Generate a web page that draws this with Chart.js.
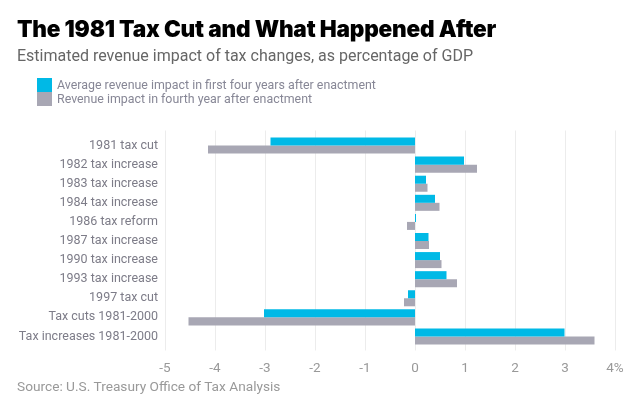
<!DOCTYPE html>
<html>
<head>
<meta charset="utf-8">
<script src="https://cdn.jsdelivr.net/npm/chart.js@4"></script>
<style>
  body { margin: 0; width: 640px; height: 414px; position: relative; background: #fff; font-family: Roboto, sans-serif; overflow: hidden; }
  #title { position: absolute; left: 17px; top: 15px; font-family: Inter, sans-serif; font-weight: 900; font-size: 22.6px; color: #000; letter-spacing: -0.2px; white-space: nowrap; }
  #subtitle { position: absolute; left: 17px; top: 46px; font-size: 16px; color: #666; white-space: nowrap; }
  #legend { position: absolute; left: 37px; top: 78px; font-size: 12.4px; color: #878796; }
  .item { height: 14px; line-height: 14px; display: flex; align-items: center; white-space: nowrap; }
  .sw { width: 15px; height: 14px; margin-right: 5px; }
  #source { position: absolute; left: 17px; top: 378px; font-size: 13.7px; color: #999; white-space: nowrap; }
  #wrap { position: absolute; left: 0; top: 0; width: 640px; height: 414px; }
</style>
</head>
<body>
<div id="wrap"><canvas id="barChart"></canvas></div>
<div id="title">The 1981 Tax Cut and What Happened After</div>
<div id="subtitle">Estimated revenue impact of tax changes, as percentage of GDP</div>
<div id="legend">
  <div class="item"><div class="sw" style="background:#00b9e6"></div>Average revenue impact in first four years after enactment</div>
  <div class="item"><div class="sw" style="background:#a8a7b4"></div>Revenue impact in fourth year after enactment</div>
</div>
<div id="source">Source: U.S. Treasury Office of Tax Analysis</div>
<script>
const categories = [
  "1981 tax cut",
  "1982 tax increase",
  "1983 tax increase",
  "1984 tax increase",
  "1986 tax reform",
  "1987 tax increase",
  "1990 tax increase",
  "1993 tax increase",
  "1997 tax cut",
  "Tax cuts 1981-2000",
  "Tax increases 1981-2000",
];
const averageImpact = [-2.89, 0.98, 0.22, 0.4, 0.02, 0.27, 0.5, 0.63, -0.14, -3.02, 2.99];
const fourthYearImpact = [-4.14, 1.24, 0.25, 0.49, -0.16, 0.28, 0.53, 0.84, -0.22, -4.53, 3.59];
const xTicks = [-5, -4, -3, -2, -1, 0, 1, 2, 3, 4];

// vertical grid lines run a little past the bars, like the original
const longGrid = {
  id: "longGrid",
  beforeDatasetsDraw(chart) {
    const { ctx, chartArea, scales } = chart;
    ctx.save();
    ctx.strokeStyle = "#ececec";
    ctx.lineWidth = 1;
    xTicks.forEach((t) => {
      const x = Math.round(scales.x.getPixelForValue(t)) + 0.5;
      ctx.beginPath();
      ctx.moveTo(x, chartArea.top - 5.5);
      ctx.lineTo(x, chartArea.bottom + 4.5);
      ctx.stroke();
    });
    ctx.restore();
  },
};

new Chart("barChart", {
  type: "bar",
  data: {
    labels: categories,
    datasets: [
      {
        label: "Average revenue impact in first four years after enactment",
        data: averageImpact,
        backgroundColor: "#00b9e6",
        categoryPercentage: 0.84,
        barPercentage: 1,
      },
      {
        label: "Revenue impact in fourth year after enactment",
        data: fourthYearImpact,
        backgroundColor: "#a8a7b4",
        categoryPercentage: 0.84,
        barPercentage: 1,
      },
    ],
  },
  options: {
    indexAxis: "y",
    responsive: true,
    maintainAspectRatio: false,
    animation: false,
    layout: { padding: { top: 136, right: 25, bottom: 28, left: 0 } },
    plugins: {
      legend: { display: false },
      tooltip: { enabled: false },
    },
    scales: {
      x: {
        min: -5,
        max: 4,
        afterBuildTicks(scale) {
          scale.ticks = xTicks.map((v) => ({ value: v }));
        },
        afterFit(scale) {
          scale.height = 40;
        },
        grid: { display: false, drawTicks: false },
        border: { display: false },
        ticks: {
          padding: 15,
          color: "#999",
          font: { family: "Roboto", size: 13.5 },
          callback: (v) => (v === 4 ? "4%" : String(v)),
        },
      },
      y: {
        afterFit(scale) {
          scale.width = 165;
        },
        grid: { display: false, drawTicks: false },
        border: { display: false },
        ticks: {
          padding: 7,
          color: "#7d7c88",
          font: { family: "Roboto", size: 12.5 },
        },
      },
    },
  },
  plugins: [longGrid],
});
</script>
</body>
</html>
